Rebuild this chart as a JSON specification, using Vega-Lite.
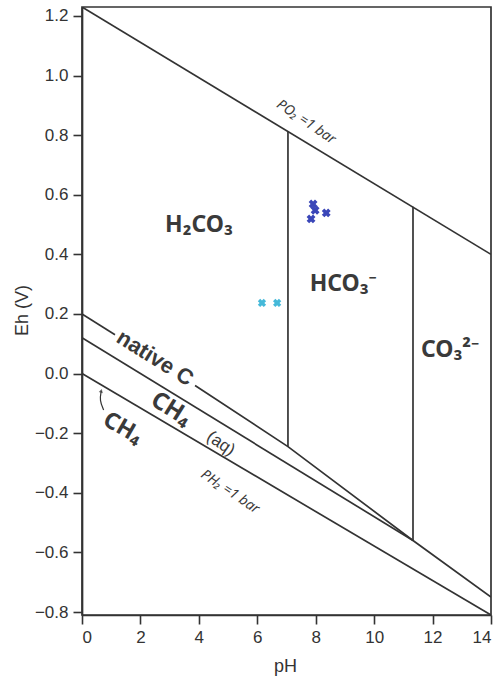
{
  "$schema": "https://vega.github.io/schema/vega-lite/v6.json",
  "width": 409,
  "height": 608,
  "autosize": {"type": "none"},
  "padding": {"left": 82, "top": 7, "right": 9, "bottom": 64},
  "background": "white",
  "config": {
    "font": "Liberation Sans",
    "view": {"stroke": "#333333", "strokeWidth": 1.7},
    "axis": {
      "domainColor": "#333333", "domainWidth": 1.7,
      "tickColor": "#333333", "tickWidth": 1.6, "tickSize": 9,
      "labelFont": "Liberation Sans", "labelFontSize": 17, "labelColor": "#333333",
      "titleFont": "Liberation Sans", "titleFontSize": 18, "titleFontWeight": "normal", "titleColor": "#333333",
      "grid": false
    }
  },
  "datasets": {
    "lines": [
      {"line": "O2", "pH": 0, "Eh": 1.23},
      {"line": "O2", "pH": 14, "Eh": 0.40},
      {"line": "H2", "pH": 0, "Eh": 0.0},
      {"line": "H2", "pH": 14, "Eh": -0.81},
      {"line": "nativeC_a", "pH": 0, "Eh": 0.2},
      {"line": "nativeC_a", "pH": 1.13, "Eh": 0.13},
      {"line": "nativeC_b", "pH": 3.87, "Eh": -0.04},
      {"line": "nativeC_b", "pH": 7.05, "Eh": -0.245},
      {"line": "nativeC_b", "pH": 11.33, "Eh": -0.56},
      {"line": "nativeC_b", "pH": 14, "Eh": -0.75},
      {"line": "CH4aq", "pH": 0, "Eh": 0.12},
      {"line": "CH4aq", "pH": 11.33, "Eh": -0.56},
      {"line": "pK1", "pH": 7.05, "Eh": 0.813},
      {"line": "pK1", "pH": 7.05, "Eh": -0.245},
      {"line": "pK2", "pH": 11.33, "Eh": 0.56},
      {"line": "pK2", "pH": 11.33, "Eh": -0.56}
    ],
    "arrow": [
      {"pH": 0.74, "Eh": -0.122},
      {"pH": 0.6, "Eh": -0.09},
      {"pH": 0.66, "Eh": -0.058}
    ],
    "samples": [
      {"group": "A", "pH": 7.91, "Eh": 0.569},
      {"group": "A", "pH": 8.36, "Eh": 0.539},
      {"group": "A", "pH": 7.84, "Eh": 0.519},
      {"group": "A", "pH": 7.98, "Eh": 0.548},
      {"group": "B", "pH": 6.16, "Eh": 0.237},
      {"group": "B", "pH": 6.68, "Eh": 0.237}
    ],
    "labels": [
      {"label": "H₂CO₃", "pH": 4.0, "Eh": 0.50},
      {"label": "HCO₃⁻", "pH": 8.94, "Eh": 0.30},
      {"label": "CO₃²⁻", "pH": 12.6, "Eh": 0.08},
      {"label": "native C", "pH": 2.5, "Eh": 0.052},
      {"label": "CH₄", "pH": 3.05, "Eh": -0.12},
      {"label": "(aq)", "pH": 4.75, "Eh": -0.235},
      {"label": "CH₄ ", "pH": 1.4, "Eh": -0.183},
      {"label": "PO₂ =1 bar", "pH": 7.67, "Eh": 0.844},
      {"label": "PH₂ =1 bar", "pH": 5.07, "Eh": -0.397}
    ]
  },
  "encoding": {
    "x": {"field": "pH", "type": "quantitative",
      "scale": {"domain": [0, 14], "nice": false, "zero": false}},
    "y": {"field": "Eh", "type": "quantitative",
      "scale": {"domain": [-0.81, 1.23], "nice": false, "zero": false}}
  },
  "layer": [
    {
      "data": {"name": "lines"},
      "mark": {"type": "line", "color": "#333333", "strokeWidth": 1.7, "clip": true},
      "encoding": {
        "x": {"field": "pH", "type": "quantitative",
          "scale": {"domain": [0, 14], "nice": false, "zero": false},
          "axis": {"values": [0, 2, 4, 6, 8, 10, 12, 14], "labelPadding": 5,
            "title": "pH", "titleX": 203, "titleY": 51, "titleBaseline": "middle", "titleAlign": "center"}},
        "y": {"field": "Eh", "type": "quantitative",
          "scale": {"domain": [-0.81, 1.23], "nice": false, "zero": false},
          "axis": {"values": [-0.8, -0.6, -0.4, -0.2, 0, 0.2, 0.4, 0.6, 0.8, 1.0, 1.2], "format": ".1f",
            "labelPadding": 5, "title": "Eh (V)", "titleX": -60, "titleY": 303,
            "titleAngle": -90, "titleBaseline": "middle", "titleAlign": "center"}},
        "detail": {"field": "line", "type": "nominal"},
        "order": {"field": "Eh", "sort": "descending"}
      }
    },
    {
      "data": {"name": "arrow"},
      "mark": {"type": "line", "color": "#333333", "strokeWidth": 1.2, "interpolate": "basis"},
      "encoding": {"order": {"field": "Eh", "sort": "descending"}}
    },
    {
      "data": {"name": "arrow"},
      "transform": [{"filter": "datum.Eh > -0.06"}],
      "mark": {"type": "point", "shape": "triangle-up", "filled": true, "color": "#333333", "size": 18, "angle": 15}
    },
    {
      "data": {"name": "samples"},
      "transform": [{"filter": "datum.group == 'A'"}],
      "mark": {"type": "point", "shape": "cross", "angle": 45, "filled": true, "color": "#3a46b8", "size": 80, "opacity": 1}
    },
    {
      "data": {"name": "samples"},
      "transform": [{"filter": "datum.group == 'B'"}],
      "mark": {"type": "point", "shape": "cross", "angle": 45, "filled": true, "color": "#45b9d9", "size": 70, "opacity": 1}
    },
    {
      "data": {"name": "labels"},
      "transform": [{"filter": "indexof(['H₂CO₃','HCO₃⁻','CO₃²⁻'], datum.label) >= 0"}],
      "mark": {"type": "text", "font": "Noto Sans", "fontSize": 23, "fontWeight": "bold", "color": "#3a3a3a", "align": "center", "baseline": "middle"},
      "encoding": {"text": {"field": "label"}}
    },
    {
      "data": {"name": "labels"},
      "transform": [{"filter": "datum.label == 'native C'"}],
      "mark": {"type": "text", "fontSize": 22, "fontWeight": "bold", "color": "#3a3a3a", "align": "center", "baseline": "middle", "angle": 32},
      "encoding": {"text": {"field": "label"}}
    },
    {
      "data": {"name": "labels"},
      "transform": [{"filter": "datum.label == 'CH₄'"}],
      "mark": {"type": "text", "font": "Noto Sans", "fontSize": 24, "fontWeight": "bold", "color": "#3a3a3a", "align": "center", "baseline": "middle", "angle": 32},
      "encoding": {"text": {"field": "label"}}
    },
    {
      "data": {"name": "labels"},
      "transform": [{"filter": "datum.label == 'CH₄ '"}],
      "mark": {"type": "text", "font": "Noto Sans", "fontSize": 23, "fontWeight": "bold", "color": "#3a3a3a", "align": "center", "baseline": "middle", "angle": 30},
      "encoding": {"text": {"field": "label"}}
    },
    {
      "data": {"name": "labels"},
      "transform": [{"filter": "datum.label == '(aq)'"}],
      "mark": {"type": "text", "fontSize": 17, "color": "#3a3a3a", "align": "center", "baseline": "middle", "angle": 34},
      "encoding": {"text": {"field": "label"}}
    },
    {
      "data": {"name": "labels"},
      "transform": [{"filter": "indexof(datum.label, 'bar') >= 0"}],
      "mark": {"type": "text", "font": "Noto Sans", "fontSize": 14, "fontStyle": "italic", "color": "#3a3a3a", "align": "center", "baseline": "middle", "angle": 34},
      "encoding": {"text": {"field": "label"}}
    }
  ]
}
